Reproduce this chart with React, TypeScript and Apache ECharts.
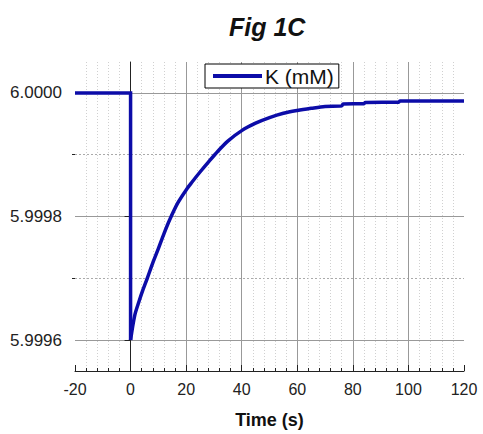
import React, { useEffect, useRef } from "react";
import * as echarts from "echarts";

const titleText = "Fig 1C";
const seriesName = "K (mM)";
const xAxisName = "Time (s)";

// baseline and the sudden drop at t = 0
const stepTimeS = [-20, 0, 0];
const stepKmM = [6.0, 6.0, 5.9996];

// recovery after the drop
const recTimeS = [0, 1.5, 3, 4.5, 6, 8, 10, 12, 14, 17, 20, 22, 25, 28, 31.5, 35, 40, 45, 50, 55, 60, 65, 70, 76, 76.5, 84, 84.5, 96.5, 97, 120];
const recKmM = [5.9996, 5.99964, 5.999662, 5.999682, 5.9997, 5.999725, 5.999748, 5.999772, 5.999794, 5.999822, 5.999843, 5.999855, 5.999872, 5.999888, 5.999906, 5.999922, 5.999939, 5.999951, 5.99996, 5.999967, 5.9999715, 5.999975, 5.999978, 5.999979, 5.999982, 5.9999825, 5.9999845, 5.999985, 5.999987, 5.999987];

const yLabelValues = [5.9996, 5.9998, 6.0];
const yMinorValues = [5.9997, 5.9999];
const yMin = 5.99955;
const yMax = 6.00005;
const xMin = -20;
const xMax = 120;
const xInterval = 20;

const FONT = "'Liberation Sans', Arial, sans-serif";
const LINE_COLOR = "#0c0ca8";

export default function App() {
  const ref = useRef<HTMLDivElement>(null);
  useEffect(() => {
    if (!ref.current) return;
    const chart = echarts.init(ref.current, null, { renderer: "svg" });
    const stepData = stepTimeS.map((t, i) => [t, stepKmM[i]]);
    const recData = recTimeS.map((t, i) => [t, recKmM[i]]);
    chart.setOption({
      animation: false,
      backgroundColor: "#fff",
      title: {
        text: titleText,
        left: 229,
        top: 14,
        padding: 0,
        textStyle: { fontFamily: FONT, fontSize: 25, fontWeight: "bold", fontStyle: "italic", color: "#111" },
      },
      legend: {
        left: 205,
        top: 64,
        padding: [1, 5, 1, 8],
        itemWidth: 49,
        itemHeight: 4,
        icon: "rect",
        borderColor: "#000",
        borderWidth: 1,
        backgroundColor: "#fff",
        borderRadius: 0,
        textStyle: { fontFamily: FONT, fontSize: 21, color: "#111", lineHeight: 22, padding: [0, 0, 0, -2] },
        data: [{ name: seriesName, itemStyle: { color: LINE_COLOR } }],
      },
      grid: { left: 75, right: 19, top: 62, bottom: 60, containLabel: false },
      xAxis: {
        type: "value",
        min: xMin,
        max: xMax,
        interval: xInterval,
        name: xAxisName,
        nameLocation: "middle",
        nameGap: 40,
        nameTextStyle: { fontFamily: FONT, fontSize: 18, fontWeight: "bold", color: "#111" },
        axisLine: { show: true, onZero: false, lineStyle: { color: "#222", width: 1 } },
        axisTick: { show: true, inside: true, length: 6, lineStyle: { color: "#222" } },
        minorTick: { show: true, splitNumber: 5, length: 3, lineStyle: { color: "#222" } },
        axisLabel: { fontFamily: FONT, fontSize: 16, color: "#222", margin: 10 },
        splitLine: { show: true, showMaxLine: false, showMinLine: false, lineStyle: { color: "#999", width: 1 } },
        minorSplitLine: { show: true, lineStyle: { color: "#d0d0d0", width: 1, type: [1, 2] } },
      },
      yAxis: [
        {
          type: "value",
          min: yMin,
          max: yMax,
          position: "left",
          axisLine: { show: true, lineStyle: { color: "#222", width: 1 } },
          axisTick: { show: true, inside: false, length: 6, customValues: yLabelValues, lineStyle: { color: "#222" } },
          axisLabel: {
            customValues: yLabelValues,
            fontFamily: FONT,
            fontSize: 17,
            color: "#222",
            margin: 13,
            formatter: (v: number) => v.toFixed(4),
          },
          splitLine: { show: true, lineStyle: { color: "#999", width: 1 } },
        },
        {
          type: "value",
          min: yMin,
          max: yMax,
          position: "left",
          axisLine: { show: false },
          axisTick: { show: true, inside: false, length: 3, customValues: yMinorValues, lineStyle: { color: "#222" } },
          axisLabel: { show: false, customValues: yMinorValues },
          splitLine: { show: true, lineStyle: { color: "#aaa", width: 1, type: [2, 2] } },
        },
      ],
      series: [
        {
          name: seriesName,
          type: "line",
          yAxisIndex: 0,
          data: stepData,
          symbol: "none",
          lineStyle: { color: LINE_COLOR, width: 3.5, join: "miter" },
          itemStyle: { color: LINE_COLOR },
          z: 5,
        },
        {
          name: seriesName,
          type: "line",
          yAxisIndex: 0,
          data: recData,
          symbol: "none",
          smooth: 0.3,
          lineStyle: { color: LINE_COLOR, width: 3.5 },
          itemStyle: { color: LINE_COLOR },
          z: 5,
        },
      ],
    });
    return () => chart.dispose();
  }, []);
  return <div ref={ref} style={{ width: 483, height: 434, position: "absolute", left: 0, top: 0 }} />;
}
